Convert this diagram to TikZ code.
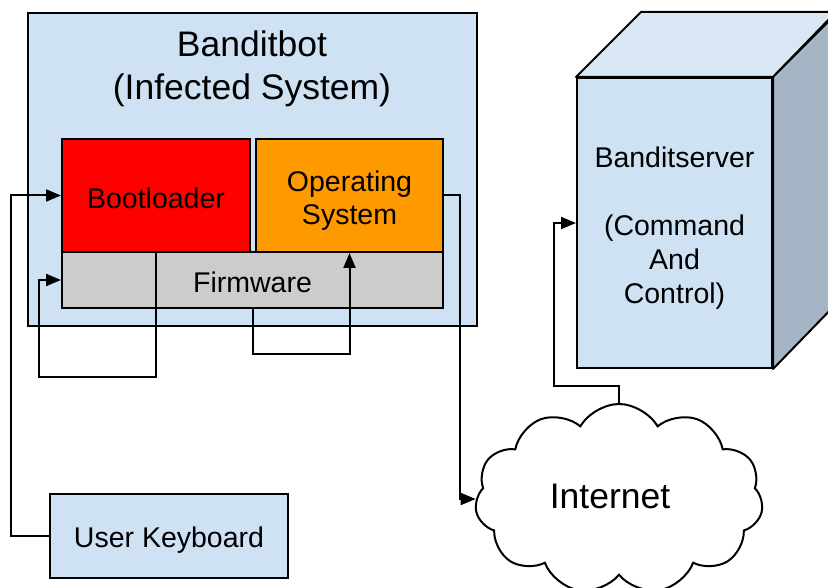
\documentclass[tikz,border=0pt]{standalone}
\usepackage{fontspec}
\setmainfont{Liberation Sans}
\usetikzlibrary{arrows.meta,shapes.symbols}
\definecolor{boxblue}{HTML}{CFE2F3}
\definecolor{topblue}{HTML}{D9E6F4}
\definecolor{sideblue}{HTML}{A5B5C6}
\definecolor{bootred}{HTML}{FF0000}
\definecolor{osorange}{HTML}{FF9900}
\definecolor{fwgray}{HTML}{CCCCCC}
\begin{document}
\begin{tikzpicture}[x=1pt, y=-1pt,
    part/.style={draw, line width=2pt, rectangle, inner sep=0pt},
    tag/.style={align=center, yshift=-4pt, font=\fontsize{28.5}{33}\selectfont},
    link/.style={line width=2pt, -{Triangle[length=15pt,width=12pt]}}]
        \useasboundingbox (0,0) rectangle (828,588);
        \clip (0,0) rectangle (828,588);
        % Boxes
        \node (bot) at (252.5, 169.5) [part, fill=boxblue, minimum width=449, minimum height=313] {};
        \node (title) at (252, 69) [align=center, font=\fontsize{35.5}{43}\selectfont] {Banditbot\\(Infected System)};
        \node (boot) at (156, 195.5) [part, fill=bootred, minimum width=188, minimum height=113,
            label={[tag, yshift=1pt]center:Bootloader}] {};
        \node (os) at (349.5, 195.5) [part, fill=osorange, minimum width=187, minimum height=113,
            label={[tag, yshift=-1pt]center:{Operating\\System}}] {};
        \node (fw) at (252.5, 280) [part, fill=fwgray, minimum width=381, minimum height=56,
            label={[tag, yshift=2pt]center:Firmware}] {};
        \node (kbd) at (169, 536) [part, fill=boxblue, minimum width=238, minimum height=84,
            label={[tag]center:User Keyboard}] {};
        \node (net) at (619, 499) [cloud, draw, line width=2pt, fill=white, cloud puffs=11, cloud puff arc=120,
            minimum width=288, minimum height=190, inner sep=0pt,
            label={[font=\fontsize{35.5}{43}\selectfont, xshift=-9pt, yshift=3pt]center:Internet}] {};
        % Server cube
        \node (srv) at (674.5, 223) [part, fill=boxblue, minimum width=195, minimum height=290,
            label={[tag, yshift=-1pt, font=\fontsize{28.5}{34}\selectfont]center:{Banditserver\\[34pt](Command\\And\\Control)}}] {};
        \draw[line width=2pt, line join=round, fill=topblue] (srv.north west) -- ++(65,-65) -- ++(195,0) -- (srv.north east) -- cycle;
        \draw[line width=2pt, line join=round, fill=sideblue] (srv.north east) -- ++(65,-65) -- ++(0,290) -- (srv.south east) -- cycle;
        % Connectors
        \draw[link] (kbd.west) -| ([xshift=-50pt]boot.west) -- (boot.west);
        \draw[link] (boot.south) -- ++(0,124) -| ([xshift=-22pt]fw.west) -- (fw.west);
        \draw[link] (fw.south) -- ++(0,45) -| (os.south);
        \draw[link] (os.east) -- ++(16,0) |- (net.west);
        \draw[link] (net.north) -- ++(0,-17) -| ([xshift=-22pt]srv.west) -- (srv.west);
    \end{tikzpicture}
\end{document}
